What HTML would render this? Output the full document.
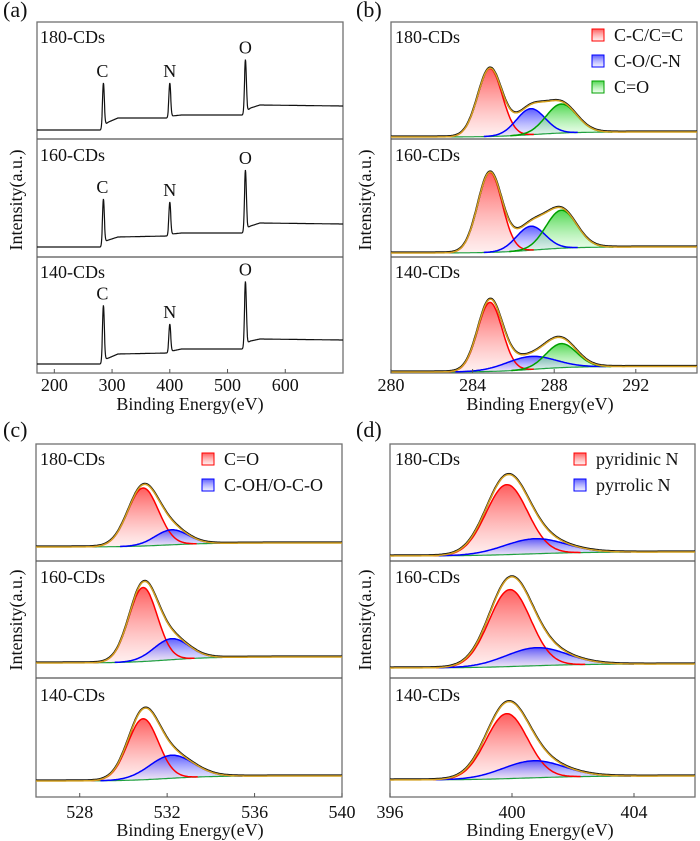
<!DOCTYPE html>
<html><head><meta charset="utf-8"><style>
html,body{margin:0;padding:0;background:#fff}
svg{display:block}
svg text{font-family:"Liberation Serif","DejaVu Serif","Times New Roman",Times,serif}
</style></head><body>
<svg id="fig" width="700" height="841" viewBox="0 0 700 841" xmlns="http://www.w3.org/2000/svg">
<defs>
<linearGradient id="gR" x1="0" y1="0" x2="0" y2="1"><stop offset="0" stop-color="#ff4040" stop-opacity="0.85"/><stop offset="1" stop-color="#ffe0e0" stop-opacity="0.5"/></linearGradient>
<linearGradient id="gB" x1="0" y1="0" x2="0" y2="1"><stop offset="0" stop-color="#4040ff" stop-opacity="0.85"/><stop offset="1" stop-color="#e0e0ff" stop-opacity="0.5"/></linearGradient>
<linearGradient id="gG" x1="0" y1="0" x2="0" y2="1"><stop offset="0" stop-color="#30d030" stop-opacity="0.85"/><stop offset="1" stop-color="#e0ffe0" stop-opacity="0.5"/></linearGradient>
</defs>
</svg>
<script>
// ---------- data ----------
const sampleNames = ["180-CDs","160-CDs","140-CDs"];
// panel (a) survey
const surveyKnotsE = [170,283,289,294,310,396,404,420,528,533,540,556,700];
const surveyBg180 = [9,9,15,17,21,21,23,24,24,28,31,34,33];
const surveyBg160 = [10,10,16,17,20,21,23,24,24,29,31,34,33];
const surveyBg140 = [9,9,14,15,19,20,22,24,24,30,32,34,33];
const surveyPeakLabels = ["C","N","O"];
const surveyPeakE = [285,400,531];
const surveyPeak180 = [45,34,53];
const surveyPeak160 = [46,33,60];
const surveyPeak140 = [57,28,64];
const surveyTicks = [200,300,400,500,600];
// panel (b) C1s
const c1sNames = ["C-C/C=C","C-O/C-N","C=O"];
const c1sCenters = [284.85,286.85,288.35];
const c1sSigma = [0.6,0.7,0.75];
const c1sAmp180 = [68,26,29];
const c1sAmp160 = [80,24,38];
const c1sAmp140 = [69,13,24];
const c1sSigma140 = [0.6,1.2,0.75];
const c1sBase180 = [2,7];
const c1sBase160 = [4,10];
const c1sBase140 = [1,6.5];
const c1sTicks = [280,284,288,292];
// panel (c) O1s
const o1sNames = ["C=O","C-OH/O-C-O"];
const o1sCenters = [530.9,532.2];
const o1sSigma180 = [0.7,0.75];
const o1sSigma160 = [0.65,0.8];
const o1sSigma140 = [0.7,1.0];
const o1sAmp180 = [58,15];
const o1sAmp160 = [74,21];
const o1sAmp140 = [61,23];
const o1sBase180 = [14,18];
const o1sBase160 = [15,21];
const o1sBase140 = [16,21];
const o1sTicks = [528,532,536,540];
// panel (d) N1s
const n1sNames = ["pyridinic N","pyrrolic N"];
const n1sCenters180 = [399.83,400.75];
const n1sCenters160 = [399.93,400.8];
const n1sCenters140 = [399.83,400.7];
const n1sSigma = [0.68,1.0];
const n1sAmp180 = [70,15];
const n1sAmp160 = [77,18];
const n1sAmp140 = [65,17];
const n1sBase180 = [5,9];
const n1sBase160 = [10,14];
const n1sBase140 = [17,21];
const n1sTicks = [396,400,404];

// ---------- drawing ----------
const svg = document.getElementById('fig');
const NS = 'http://www.w3.org/2000/svg';
const FONT = "'Liberation Serif', 'DejaVu Serif', 'Times New Roman', Times, serif";
function mk(tag, attrs, parent){const e=document.createElementNS(NS,tag);for(const k in attrs)e.setAttribute(k,attrs[k]);(parent||svg).appendChild(e);return e;}
function txt(s,x,y,size,parent,anchor){const t=mk('text',{x:x,y:y,'font-size':size,'text-anchor':anchor||'start',fill:'#111'},parent);t.style.fontFamily=FONT;t.textContent=s;return t;}
function gauss(E,c,a,s){return a*Math.exp(-0.5*((E-c)/s)**2);}
function interp(E,xs,ys){if(E<=xs[0])return ys[0];for(let i=1;i<xs.length;i++){if(E<=xs[i]){const t=(E-xs[i-1])/(xs[i]-xs[i-1]);return ys[i-1]+t*(ys[i]-ys[i-1]);}}return ys[ys.length-1];}
function sig(E,c,w){return 1/(1+Math.exp(-(E-c)/w));}

const bottomsTop=[139,257,373], bottomsBot=[561,678,797];

function frame(name,x0,x1,top,bot,divs){
  const g=mk('g',{});
  
  
  mk('rect',{x:x0,y:top,width:x1-x0,height:bot-top,fill:'none',stroke:'#707070','stroke-width':1.3},g);
  divs.forEach(d=>mk('line',{x1:x0,x2:x1,y1:d,y2:d,stroke:'#555','stroke-width':1.3},g));
}
function xaxis(name,ticks,xs,bot,labelY,titleX,titleY){
  const g=mk('g',{});
  
  
  ticks.forEach(t=>{const x=xs(t);mk('line',{x1:x,x2:x,y1:bot,y2:bot-4,stroke:'#555','stroke-width':1},g);txt(String(t),x,labelY,18,g,'middle');});
  const tt=txt('Binding Energy(eV)',titleX,titleY,18,g,'middle');
  
  
}
function yTitle(name,x,cy){
  const t=mk('text',{x:x,y:cy,'font-size':18,'text-anchor':'middle',fill:'#111',transform:`rotate(-90 ${x} ${cy})`});
  t.style.fontFamily=FONT;
  t.textContent='Intensity(a.u.)';
  
  
}
function panelLabel(s,x,y){const t=txt(s,x,y,22);}
function pathD(pts){return pts.map((p,i)=>(i?'L':'M')+p[0].toFixed(1)+','+p[1].toFixed(1)).join('');}

// ---- panel (a)
const ax=E=>37+(E-170)*(306/530);
frame('panel-a',37,343,22,373,[139,257]);
const surveyBgs=[surveyBg180,surveyBg160,surveyBg140], surveyPk=[surveyPeak180,surveyPeak160,surveyPeak140];
for(let s=0;s<3;s++){
  const bot=bottomsTop[s];
  const pts=[];
  for(let E=170;E<=700;E+=0.5){
    let v=interp(E,surveyKnotsE,surveyBgs[s]);
    for(let k=0;k<3;k++)v+=gauss(E,surveyPeakE[k],surveyPk[s][k],1.6);
    pts.push([ax(E),bot-v]);
  }
  const p=mk('path',{d:pathD(pts),fill:'none',stroke:'#111','stroke-width':1.2});
  
  
  for(let k=0;k<3;k++){
    const E=surveyPeakE[k];const top=bot-interp(E,surveyKnotsE,surveyBgs[s])-surveyPk[s][k];
    const t=txt(surveyPeakLabels[k],ax(E)+(k==0?-1:0),top-6,18,null,'middle');
    
    
  }
  const l=txt(sampleNames[s],40,[43,161,278][s],18);
  
  
}
xaxis('panel-a',surveyTicks,ax,373,391,190,410);
yTitle('panel-a',22,200);
panelLabel('(a)',3,17);

// ---- generic high-res
function hires(name,xs,E0,E1,bots,sets,fills,colors,baseMid){
  for(let s=0;s<3;s++){
    const bot=bots[s], st=sets[s];
    const base=E=>st.base[0]+(st.base[1]-st.base[0])*sig(E,baseMid,1.0);
    const comps=st.c.map((c,k)=>({c:c,a:st.a[k],w:st.w[k]}));
    const env=[];
    const compPts=comps.map(()=>[]);
    const basePts=[];
    for(let E=E0;E<=E1+1e-9;E+=0.05){
      const b=base(E);let sum=b;
      comps.forEach((cp,k)=>{const g=gauss(E,cp.c,cp.a,cp.w);sum+=g;compPts[k].push([xs(E),bot-b-g,bot-b,g]);});
      env.push([xs(E),bot-sum]);basePts.push([xs(E),bot-b]);
    }
    comps.forEach((cp,k)=>{
      const vis=compPts[k].filter(p=>p[3]>0.1);
      if(!vis.length)return;
      const d=pathD(vis.map(p=>[p[0],p[1]]))+vis.slice().reverse().map(p=>'L'+p[0].toFixed(1)+','+p[2].toFixed(1)).join('')+'Z';
      const f=mk('path',{d:d,fill:fills[k],stroke:'none'});
      
      
    });
    const visB=basePts.filter((p,i)=>compPts.some(cp=>cp[i][3]>0.1));
    const bl=mk('path',{d:pathD(visB),fill:'none',stroke:'#20a040','stroke-width':1.2});
    
    
    comps.forEach((cp,k)=>{
      const vis=compPts[k].filter(p=>p[3]>0.1);
      const l=mk('path',{d:pathD(vis.map(p=>[p[0],p[1]])),fill:'none',stroke:colors[k],'stroke-width':1.5});
      
      
    });
    const raw=mk('path',{d:pathD(env.map(p=>[p[0],p[1]-0.6])),fill:'none',stroke:'#111','stroke-width':2});
    
    
    const el=mk('path',{d:pathD(env),fill:'none',stroke:'#d4a020','stroke-width':1.5});
    
    
  }
}
function legend(name,x,ys,labels,fills,colors){
  labels.forEach((lab,k)=>{
    const g=mk('g',{});
    
    
    mk('rect',{x:x,y:ys[k]-6,width:12,height:12,fill:fills[k],stroke:colors[k],'stroke-width':1},g);
    txt(lab,x+22,ys[k]+6,18,g);
  });
}
function sampleLabels(x,ys){ys.forEach((y,s)=>{const t=txt(sampleNames[s],x,y,18);});}

const fills=['url(#gR)','url(#gB)','url(#gG)'], cols=['#ff0000','#0000ff','#00a000'];

// panel (b)
const bx=E=>391+(E-280)*(306/15);
frame('panel-b',391,697,22,373,[139,257]);
hires('c1s',bx,280,295,bottomsTop,[
 {c:c1sCenters,a:c1sAmp180,w:c1sSigma,base:c1sBase180},
 {c:c1sCenters,a:c1sAmp160,w:c1sSigma,base:c1sBase160},
 {c:c1sCenters,a:c1sAmp140,w:c1sSigma140,base:c1sBase140}],fills,cols,287);
xaxis('panel-b',c1sTicks,bx,373,391,540,410);
yTitle('panel-b',371,200);
panelLabel('(b)',356,17);
sampleLabels(395,[43,161,278]);
legend('c1s',592,[35,61,87],c1sNames,fills,cols);

// panel (c)
const cx=E=>36+(E-526)*(306/14);
frame('panel-c',36,342,444,797,[561,678]);
hires('o1s',cx,526,540,bottomsBot,[
 {c:o1sCenters,a:o1sAmp180,w:o1sSigma180,base:o1sBase180},
 {c:o1sCenters,a:o1sAmp160,w:o1sSigma160,base:o1sBase160},
 {c:o1sCenters,a:o1sAmp140,w:o1sSigma140,base:o1sBase140}],fills,cols,532);
xaxis('panel-c',o1sTicks,cx,797,818,190,836);
yTitle('panel-c',22,620);
panelLabel('(c)',3,437);
sampleLabels(40,[465,583,701]);
legend('o1s',202,[459,485],o1sNames,fills,cols);

// panel (d)
const dx=E=>390+(E-396)*(305/10);
frame('panel-d',390,695,444,797,[561,678]);
hires('n1s',dx,396,406,bottomsBot,[
 {c:n1sCenters180,a:n1sAmp180,w:n1sSigma,base:n1sBase180},
 {c:n1sCenters160,a:n1sAmp160,w:n1sSigma,base:n1sBase160},
 {c:n1sCenters140,a:n1sAmp140,w:n1sSigma,base:n1sBase140}],fills,cols,400.5);
xaxis('panel-d',n1sTicks,dx,797,818,540,836);
yTitle('panel-d',371,620);
panelLabel('(d)',356,437);
sampleLabels(395,[465,583,701]);
legend('n1s',574,[459,485],n1sNames,fills,cols);
</script>
</body></html>
